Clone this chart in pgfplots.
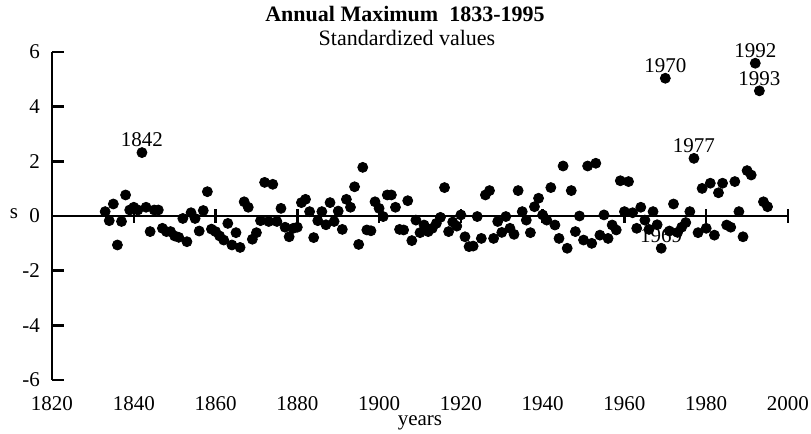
\documentclass[border=0pt]{standalone}
\usepackage{fontspec}
\setmainfont{Liberation Serif}
\usepackage{pgfplots}
\pgfplotsset{compat=1.18}
\usepackage{pgfplotstable}

\pgfplotstableread{
year s
1833 0.16
1834 -0.17
1835 0.44
1836 -1.06
1837 -0.20
1838 0.77
1839 0.22
1840 0.32
1841 0.22
1842 2.32
1843 0.32
1844 -0.57
1845 0.22
1846 0.22
1847 -0.45
1848 -0.57
1849 -0.57
1850 -0.73
1851 -0.78
1852 -0.09
1853 -0.94
1854 0.12
1855 -0.09
1856 -0.55
1857 0.20
1858 0.89
1859 -0.48
1860 -0.57
1861 -0.73
1862 -0.88
1863 -0.27
1864 -1.06
1865 -0.61
1866 -1.15
1867 0.52
1868 0.32
1869 -0.85
1870 -0.61
1871 -0.17
1872 1.23
1873 -0.20
1874 1.16
1875 -0.20
1876 0.28
1877 -0.41
1878 -0.76
1879 -0.45
1880 -0.41
1881 0.49
1882 0.61
1883 0.16
1884 -0.79
1885 -0.17
1886 0.16
1887 -0.32
1888 0.49
1889 -0.20
1890 0.18
1891 -0.49
1892 0.61
1893 0.32
1894 1.07
1895 -1.04
1896 1.78
1897 -0.51
1898 -0.54
1899 0.52
1900 0.28
1901 -0.02
1902 0.77
1903 0.77
1904 0.32
1905 -0.49
1906 -0.51
1907 0.56
1908 -0.90
1909 -0.15
1910 -0.61
1911 -0.33
1912 -0.57
1913 -0.45
1914 -0.27
1915 -0.05
1916 1.04
1917 -0.57
1918 -0.22
1919 -0.37
1920 0.04
1921 -0.76
1922 -1.12
1923 -1.10
1924 -0.02
1925 -0.82
1926 0.77
1927 0.93
1928 -0.82
1929 -0.20
1930 -0.60
1931 -0.02
1932 -0.45
1933 -0.67
1934 0.93
1935 0.16
1936 -0.15
1937 -0.61
1938 0.34
1939 0.65
1940 0.04
1941 -0.15
1942 1.04
1943 -0.33
1944 -0.82
1945 1.83
1946 -1.18
1947 0.93
1948 -0.57
1949 0.00
1950 -0.88
1951 1.83
1952 -1.00
1953 1.93
1954 -0.70
1955 0.04
1956 -0.82
1957 -0.33
1958 -0.51
1959 1.29
1960 0.16
1961 1.26
1962 0.12
1963 -0.45
1964 0.32
1965 -0.15
1966 -0.49
1967 0.16
1968 -0.32
1969 -1.18
1970 5.04
1971 -0.55
1972 0.44
1973 -0.60
1974 -0.41
1975 -0.24
1976 0.16
1977 2.11
1978 -0.61
1979 1.01
1980 -0.45
1981 1.20
1982 -0.70
1983 0.85
1984 1.20
1985 -0.33
1986 -0.41
1987 1.26
1988 0.16
1989 -0.76
1990 1.66
1991 1.50
1992 5.59
1993 4.58
1994 0.52
1995 0.34
}\datatable

\begin{document}
\begin{tikzpicture}
\path[use as bounding box] (-26pt,-27pt) rectangle (379.5pt,190pt);
\begin{axis}[
  at={(0pt,0pt)}, anchor=south west,
  scale only axis, width=368pt, height=164pt,
  xmin=1820, xmax=2000, ymin=-6, ymax=6,
  axis y line=left, axis x line=middle,
  axis line style={-, line width=1.2pt, black},
  hide obscured x ticks=false, hide obscured y ticks=false,
  xtick={1820,1840,...,2000}, ytick={-6,-4,...,6},
  tick style={line width=1.2pt, black},
  major tick length=6pt,
  xtick align=center, ytick align=inside,
  xticklabel style={anchor=north, yshift=-83.5pt},
  yticklabel style={xshift=-2.5pt},
  tick label style={font=\fontsize{10.5}{12}\selectfont},
  /pgf/number format/assume math mode=true,
  /pgf/number format/1000 sep={},
  clip=false,
]
\addplot[black, line width=1.4pt, mark=none] coordinates {(1820,0) (2000,0)};
\addplot[only marks, mark=*, mark size=2.5pt, black] table[x=year,y=s]{\datatable};
\node[yshift=6.3pt, font=\fontsize{10.5}{12}\selectfont] at (axis cs:1842,2.32) {1842};
\node[yshift=6.3pt, font=\fontsize{10.5}{12}\selectfont] at (axis cs:1970,5.04) {1970};
\node[yshift=6.3pt, font=\fontsize{10.5}{12}\selectfont] at (axis cs:1977,2.11) {1977};
\node[yshift=6.3pt, font=\fontsize{10.5}{12}\selectfont] at (axis cs:1992,5.59) {1992};
\node[yshift=6.3pt, font=\fontsize{10.5}{12}\selectfont] at (axis cs:1993,4.58) {1993};
\node[yshift=6.3pt, font=\fontsize{10.5}{12}\selectfont] at (axis cs:1969,-1.18) {1969};
\end{axis}
\draw[black, line width=1.4pt] (0pt,82pt) -- (368.5pt,82pt);
\foreach \i in {1,...,9} {
  \draw[black, line width=1.2pt] (\i*40.8889pt,78.5pt) -- (\i*40.8889pt,85.5pt);
}
\node[font=\bfseries\fontsize{11}{13}\selectfont] at (176.5pt,183pt) {Annual Maximum\ \ 1833-1995};
\node[font=\fontsize{11}{13}\selectfont] at (177.5pt,171pt) {Standardized values};
\node[font=\fontsize{10.5}{12}\selectfont] at (-19pt,83pt) {s};
\node[font=\fontsize{10.5}{12}\selectfont] at (184pt,-21.5pt) {years};
\end{tikzpicture}
\end{document}
